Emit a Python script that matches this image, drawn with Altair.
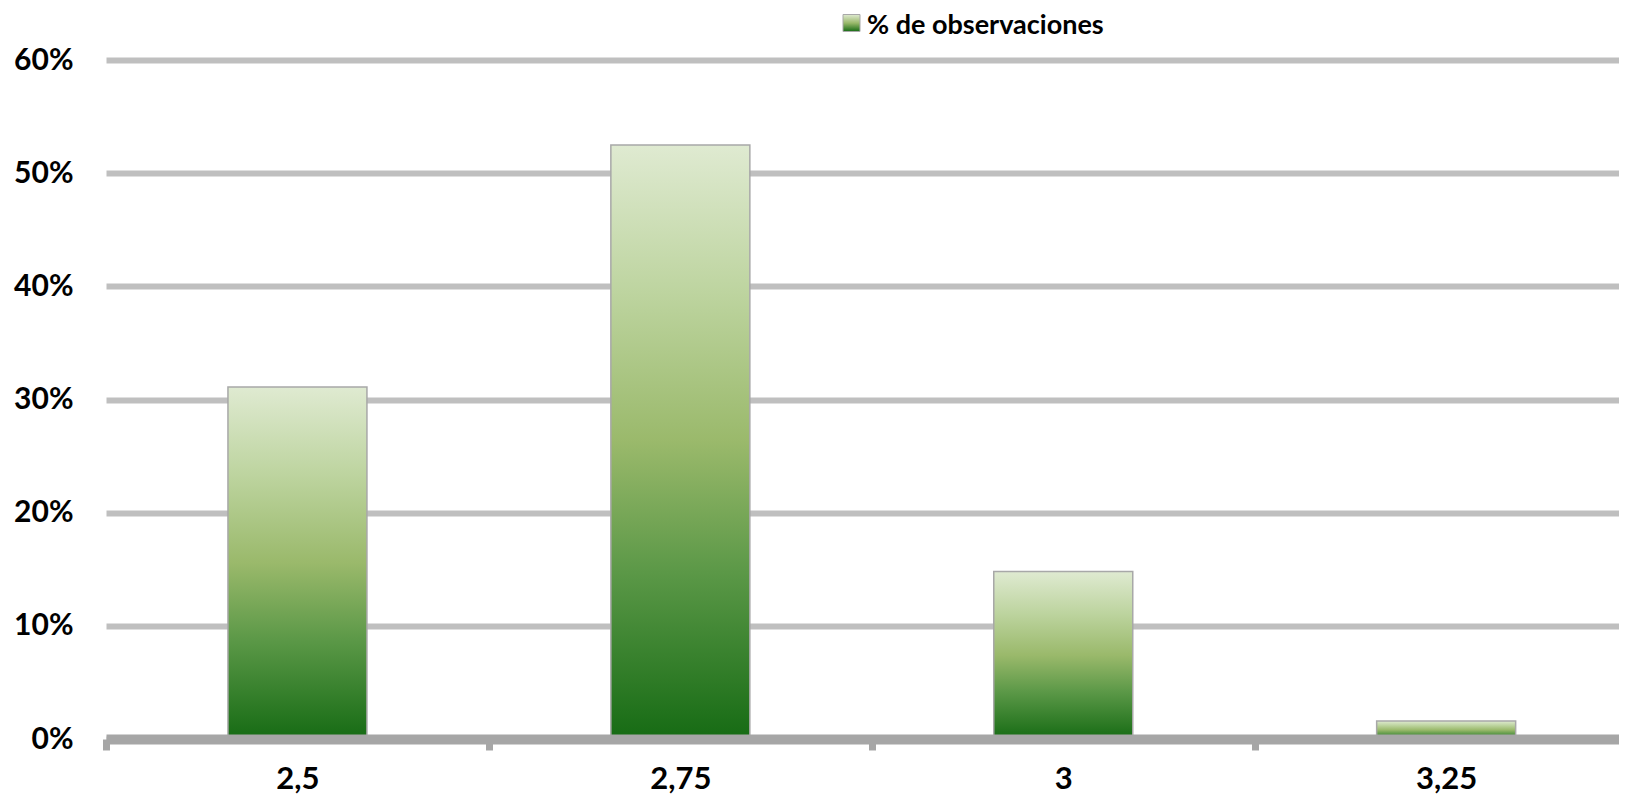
import altair as alt
import pandas as pd

# ---- data ----
categories = ["2,5", "2,75", "3", "3,25"]
positions = [0, 1, 2, 3]
values = [31.1, 52.5, 14.8, 1.6]
y_ticks = [0, 10, 20, 30, 40, 50, 60]
legend_label = "% de observaciones"

# ---- styles ----
FONT = "Lato"
HALF_BAR = 0.1815
GRID = "#bfbfbf"
AXIS = "#a6a6a6"

gradient = alt.Gradient(
    gradient="linear",
    stops=[
        alt.GradientStop(offset=0.0, color="#dfead1"),
        alt.GradientStop(offset=0.25, color="#bdd49f"),
        alt.GradientStop(offset=0.5, color="#9ab96b"),
        alt.GradientStop(offset=0.72, color="#5b9847"),
        alt.GradientStop(offset=1.0, color="#166b14"),
    ],
    x1=0, y1=0, x2=0, y2=1,
)

df = pd.DataFrame({"pos": positions, "cat": categories, "value": values})

label_expr = (
    "datum.value % 1 === 0 ? ["
    + ",".join("'" + c + "'" for c in categories)
    + "][datum.value] : ''"
)
tick_values = []
for p in positions:
    tick_values += [p - 0.5, p]

x_enc = alt.X(
    "x0:Q",
    scale=alt.Scale(domain=[-0.5, 3.4514], nice=False, zero=False),
    axis=alt.Axis(
        values=tick_values,
        labelExpr=label_expr,
        tickOpacity={"condition": {"test": "datum.value % 1 === 0", "value": 0}, "value": 1},
        tickColor=AXIS,
        tickWidth=7,
        tickSize=11,
        domainColor=AXIS,
        domainWidth=10,
        grid=False,
        title=None,
        labelFont=FONT,
        labelFontSize=31,
        labelFontWeight="bold",
        labelColor="black",
        labelPadding=38,
        labelBaseline="alphabetic",
        labelFlush=False,
        labelOverlap=False,
        zindex=1,
    ),
)

y_enc = alt.Y(
    "value:Q",
    scale=alt.Scale(domain=[0, 60], nice=False),
    axis=alt.Axis(
        values=y_ticks,
        labelExpr="datum.value + '%'",
        grid=True,
        gridColor=GRID,
        gridWidth=6,
        domain=False,
        ticks=False,
        tickSize=0,
        labelPadding=33,
        labelFont=FONT,
        labelFontSize=30,
        labelFontWeight="bold",
        labelColor="black",
        title=None,
    ),
)

bars = (
    alt.Chart(df)
    .transform_calculate(x0=f"datum.pos - {HALF_BAR}", x1=f"datum.pos + {HALF_BAR}")
    .mark_bar(fill=gradient, stroke="#a8a8a8", strokeWidth=1.5)
    .encode(x=x_enc, x2="x1:Q", y=y_enc, y2=alt.datum(0))
)

leg_df = pd.DataFrame({"label": [legend_label]})
leg_square = (
    alt.Chart(leg_df)
    .mark_square(size=289, fill=alt.Gradient(
        gradient="linear",
        stops=[alt.GradientStop(offset=0, color="#dfead1"),
               alt.GradientStop(offset=0.5, color="#9ab96b"),
               alt.GradientStop(offset=1, color="#166b14")],
        x1=0, y1=0, x2=0, y2=1), stroke="#a8a8a8", strokeWidth=1, opacity=1)
    .encode(x=alt.value(745.5), y=alt.value(-37))
)
leg_text = (
    alt.Chart(leg_df)
    .mark_text(align="left", baseline="middle", font=FONT, fontSize=27,
               fontWeight="bold", color="black")
    .encode(x=alt.value(761), y=alt.value(-34), text="label:N")
)

chart = (
    alt.layer(bars, leg_square, leg_text)
    .properties(
        width=1513,
        height=679,
        background="white",
        padding={"left": 98, "top": 52, "right": 0, "bottom": 56},
        autosize=alt.AutoSizeParams(type="none"),
    )
    .configure_view(stroke="transparent", strokeWidth=0)
)

chart.save("out.html", embed_options={"renderer": "svg", "actions": False})
